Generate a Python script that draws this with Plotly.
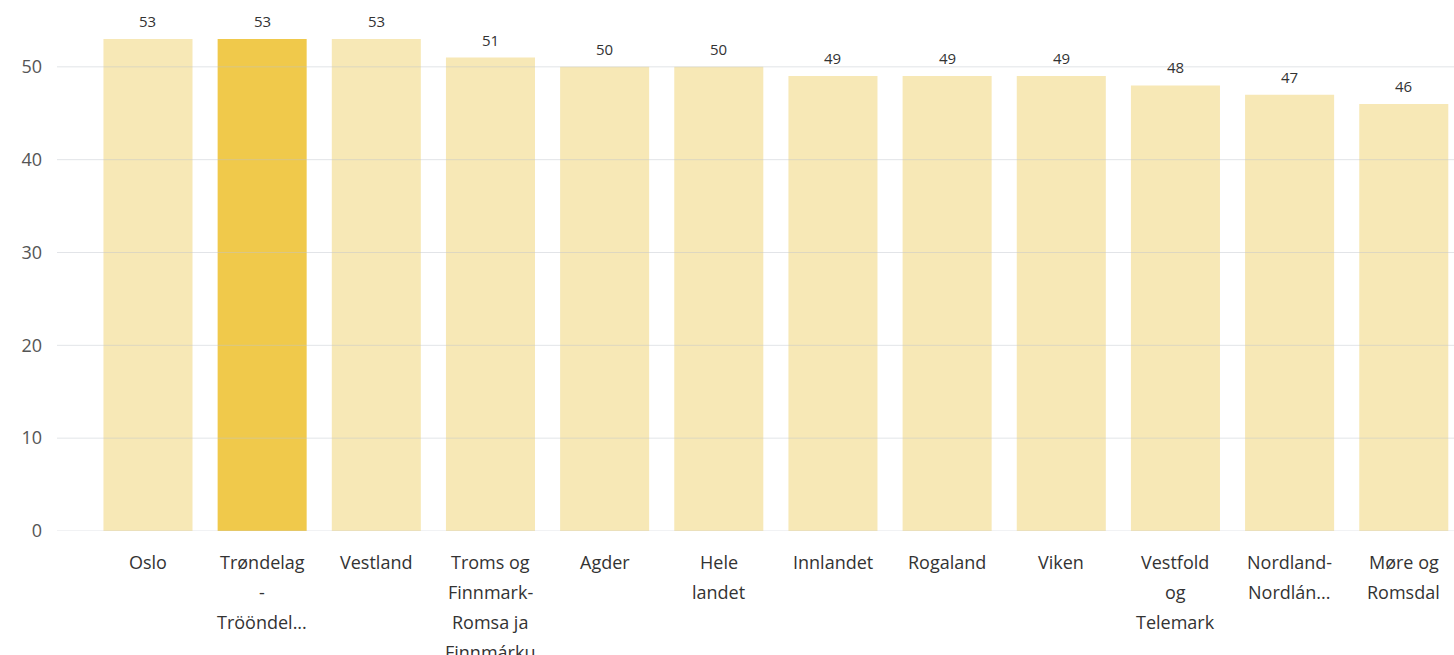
import plotly.graph_objects as go

# Regions and values
regions = ["Oslo", "Trøndelag - Trööndelage", "Vestland", "Troms og Finnmark-Romsa ja Finnmárku",
           "Agder", "Hele landet", "Innlandet", "Rogaland", "Viken", "Vestfold og Telemark",
           "Nordland-Nordlánnda", "Møre og Romsdal"]
values = [53, 53, 53, 51, 50, 50, 49, 49, 49, 48, 47, 46]
# Wrapped axis labels as shown under each bar
label_lines = [
    ["Oslo"],
    ["Trøndelag", "-", "Trööndel..."],
    ["Vestland"],
    ["Troms og", "Finnmark-", "Romsa ja", "Finnmárku"],
    ["Agder"],
    ["Hele", "landet"],
    ["Innlandet"],
    ["Rogaland"],
    ["Viken"],
    ["Vestfold", "og", "Telemark"],
    ["Nordland-", "Nordlán..."],
    ["Møre og", "Romsdal"],
]
highlight = "Trøndelag - Trööndelage"
y_ticks = [0, 10, 20, 30, 40, 50]

light = "#F7E8B6"
strong = "#F0C94B"
colors = [strong if r == highlight else light for r in regions]

FONT = "Open Sans, Noto Sans, sans-serif"

fig = go.Figure(go.Bar(
    x=regions, y=values,
    marker=dict(color=colors, line=dict(width=0)),
    width=0.78,
    cliponaxis=False,
))

annotations = []
# Value labels above each bar
for r, v in zip(regions, values):
    annotations.append(dict(
        x=r, xref="x", y=v, yref="y", yanchor="bottom", yshift=6,
        text=str(v), showarrow=False,
        font=dict(size=15, color="#333333", family=FONT),
    ))
# Category labels, one line per annotation
for r, lines in zip(regions, label_lines):
    for k, line in enumerate(lines):
        annotations.append(dict(
            x=r, xref="x", y=0, yref="paper", yanchor="top",
            yshift=-17 - 30 * k, text=line, showarrow=False,
            font=dict(size=18, color="#333333", family=FONT),
        ))

# Gridlines drawn over the bars
shapes = [dict(type="line", xref="paper", x0=0, x1=1, yref="y", y0=t, y1=t,
               layer="above", line=dict(color="rgba(190,195,205,0.45)", width=1))
          for t in y_ticks]

fig.update_layout(
    width=1454, height=655,
    margin=dict(l=57, r=0, t=0, b=124),
    plot_bgcolor="white", paper_bgcolor="white",
    showlegend=False,
    annotations=annotations,
    shapes=shapes,
    xaxis=dict(showticklabels=False, showgrid=False, zeroline=False,
               range=[-0.797, 11.44]),
    yaxis=dict(range=[0, 57.2], tickvals=y_ticks, showgrid=False, zeroline=False,
               ticks="", ticklabelstandoff=14,
               tickfont=dict(size=18, color="#555555", family=FONT)),
    bargap=0.22,
)

fig.write_html("out.html")
